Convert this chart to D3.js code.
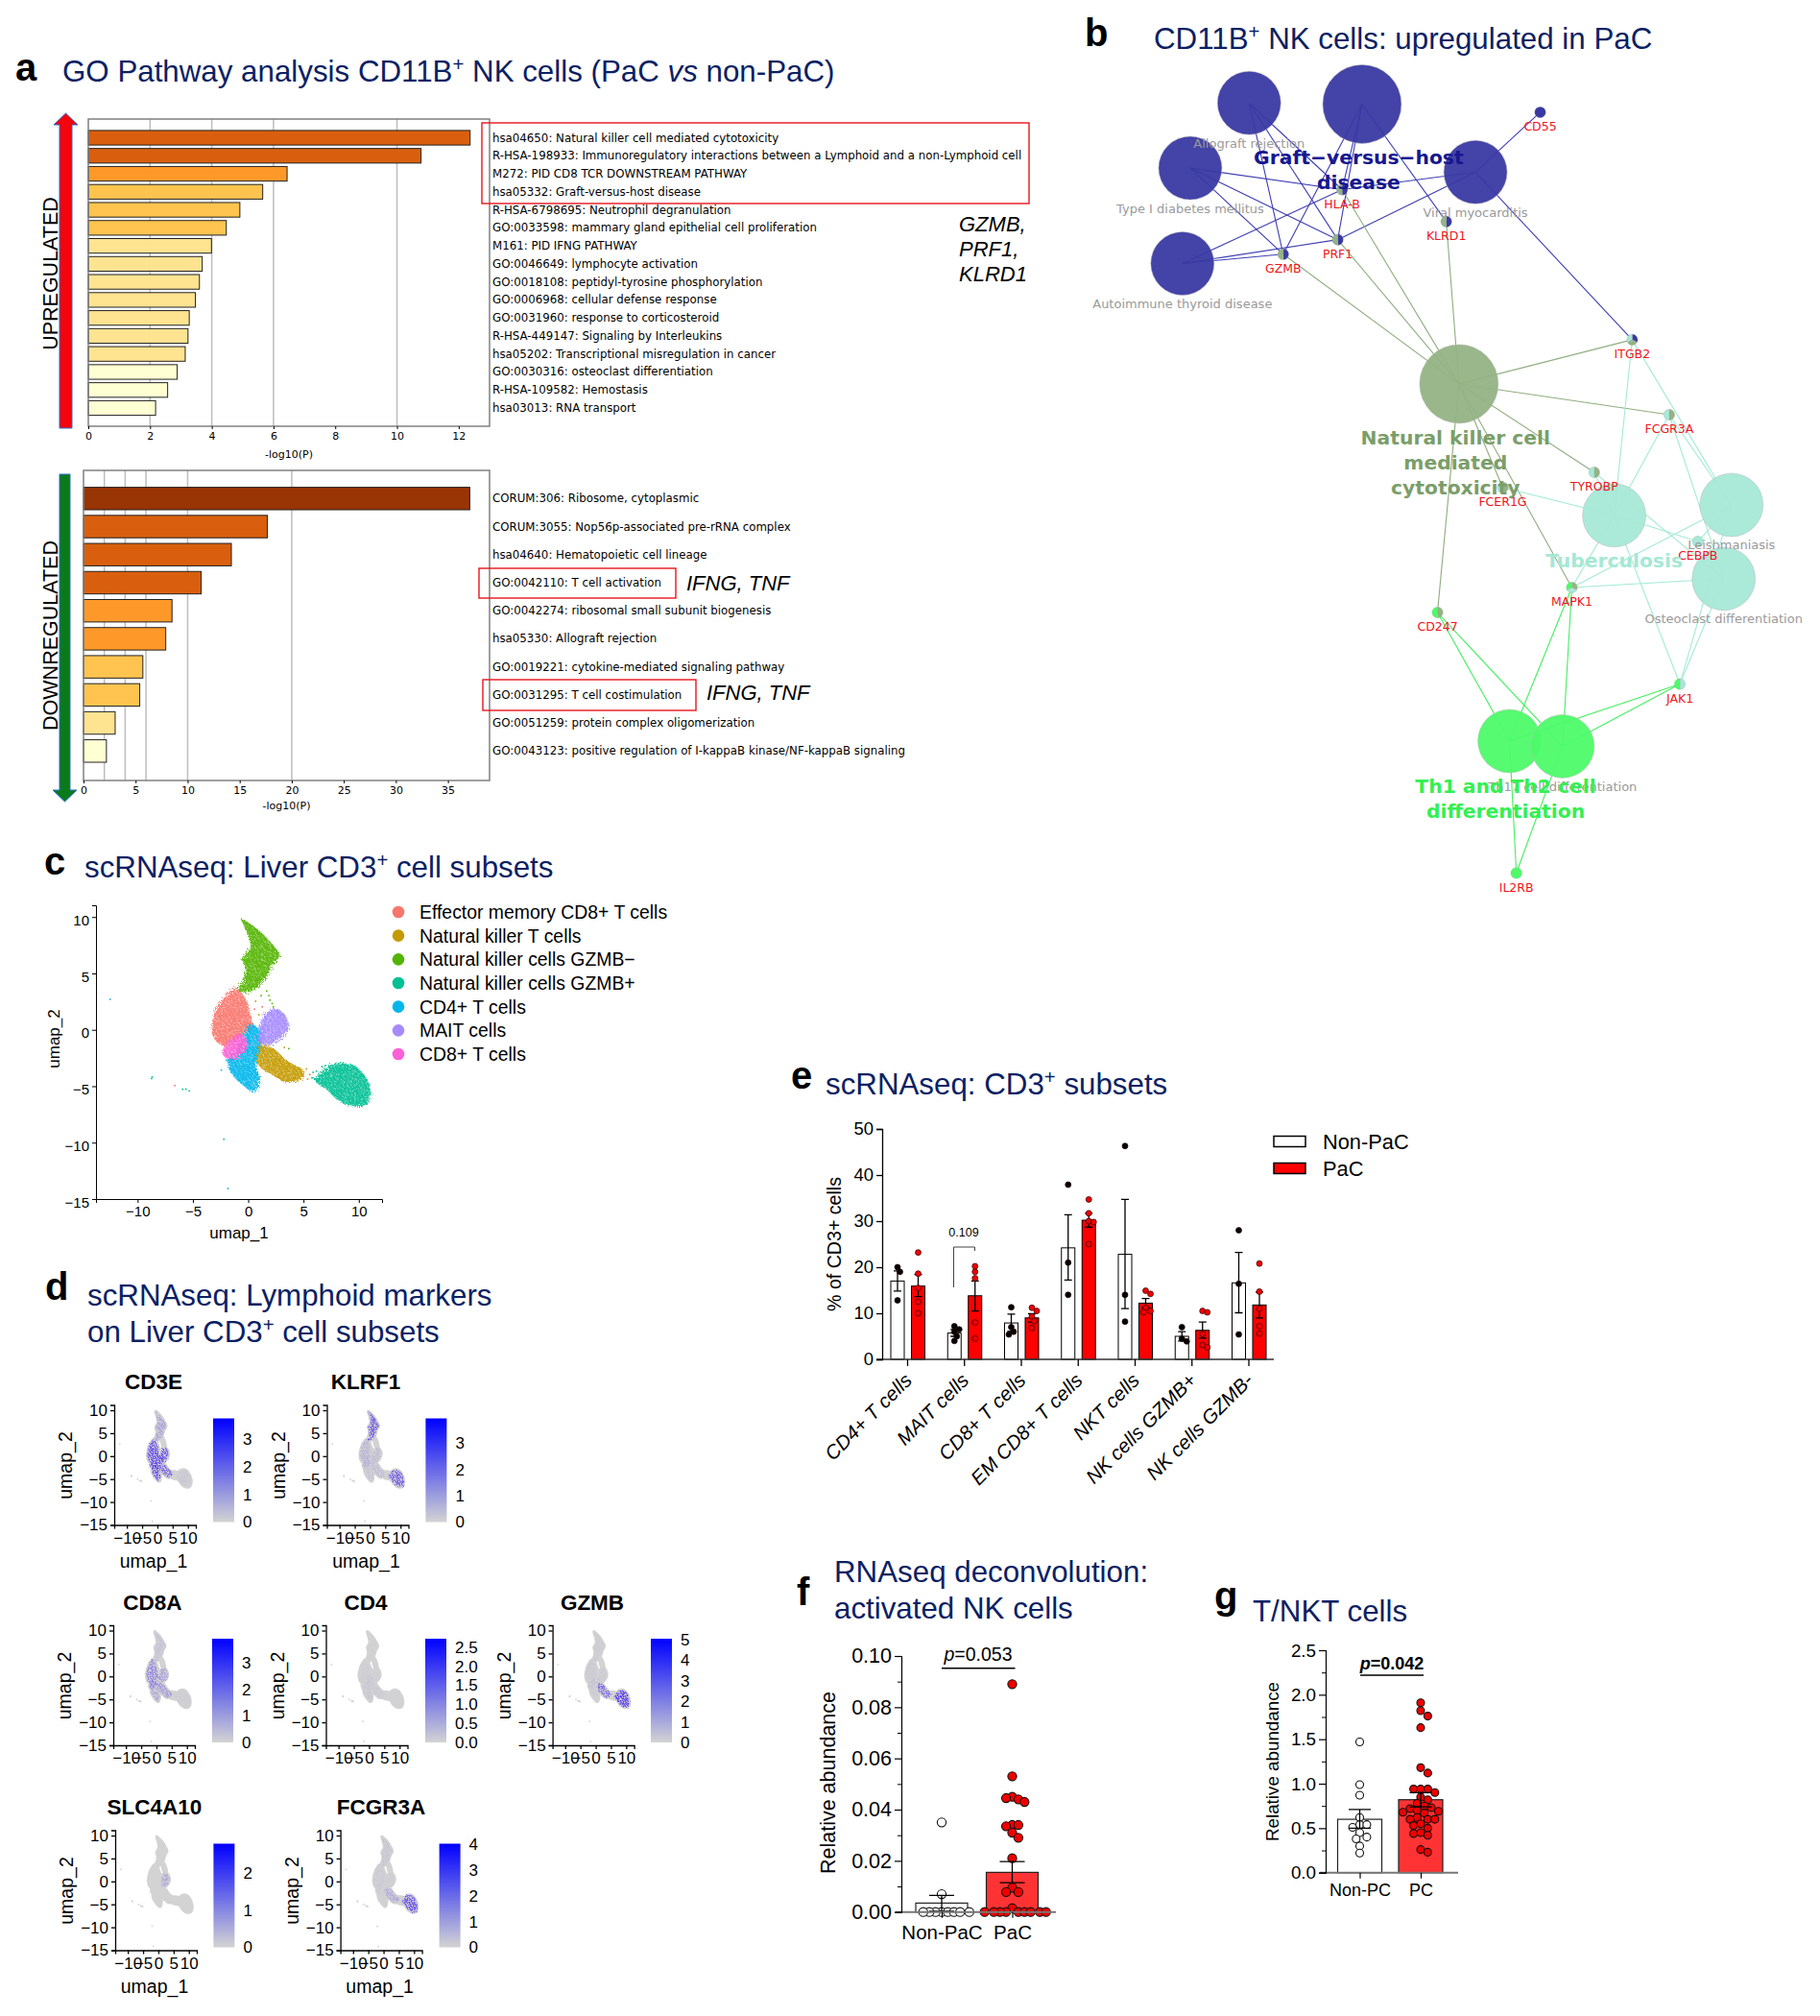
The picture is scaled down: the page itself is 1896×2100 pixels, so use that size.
<!DOCTYPE html>
<html>
<head>
<meta charset="utf-8">
<script src="https://d3js.org/d3.v7.min.js"></script>
<style>
body { margin: 0; background: #fff; }
text { font-family: "Liberation Sans", Arial, sans-serif; }
.meta text, text.meta { font-family: "DejaVu Sans", sans-serif; }
</style>
</head>
<body>
<div id="chart"></div>
<script>
// ---- panel a
var upTerms = ["hsa04650: Natural killer cell mediated cytotoxicity",
  "R-HSA-198933: Immunoregulatory interactions between a Lymphoid and a non-Lymphoid cell",
  "M272: PID CD8 TCR DOWNSTREAM PATHWAY", "hsa05332: Graft-versus-host disease",
  "R-HSA-6798695: Neutrophil degranulation", "GO:0033598: mammary gland epithelial cell proliferation",
  "M161: PID IFNG PATHWAY", "GO:0046649: lymphocyte activation", "GO:0018108: peptidyl-tyrosine phosphorylation",
  "GO:0006968: cellular defense response", "GO:0031960: response to corticosteroid",
  "R-HSA-449147: Signaling by Interleukins", "hsa05202: Transcriptional misregulation in cancer",
  "GO:0030316: osteoclast differentiation", "R-HSA-109582: Hemostasis", "hsa03013: RNA transport"];
var upValues = [12.37, 10.78, 6.44, 5.65, 4.91, 4.47, 3.99, 3.69, 3.6, 3.47, 3.27, 3.23, 3.14, 2.88, 2.57, 2.18];
var downTerms = ["CORUM:306: Ribosome, cytoplasmic", "CORUM:3055: Nop56p-associated pre-rRNA complex",
  "hsa04640: Hematopoietic cell lineage", "GO:0042110: T cell activation",
  "GO:0042274: ribosomal small subunit biogenesis", "hsa05330: Allograft rejection",
  "GO:0019221: cytokine-mediated signaling pathway", "GO:0031295: T cell costimulation",
  "GO:0051259: protein complex oligomerization", "GO:0043123: positive regulation of I-kappaB kinase/NF-kappaB signaling"];
var downValues = [37.1, 17.66, 14.2, 11.3, 8.5, 7.9, 5.7, 5.4, 3.04, 2.2];
var pathBins = [3, 4, 6, 10, 20];
var pathColors = ["#ffffd4", "#fee391", "#fec44f", "#fe9929", "#d95f0e", "#993404"];

var termNames = ["Allograft rejection", "Graft-versus-host disease", "Type I diabetes mellitus", "Viral myocarditis",
  "Autoimmune thyroid disease", "Natural killer cell mediated cytotoxicity", "Tuberculosis", "Leishmaniasis",
  "Osteoclast differentiation", "Th1 and Th2 cell differentiation", "Th17 cell differentiation"];
var termX = [396, 628, 275, 861, 259, 827, 1146, 1387, 1371, 931, 1040];
var termY = [177, 179, 289, 296, 453, 660, 886, 868, 995, 1274, 1283];
var termSize = [33, 41, 33, 33, 33, 41, 33, 33, 33, 33, 33];
var termGroup = [0, 0, 0, 0, 0, 1, 2, 2, 2, 3, 3];
var geneNames = ["CD55", "HLA-B", "KLRD1", "PRF1", "GZMB", "ITGB2", "FCGR3A", "TYROBP", "FCER1G", "CEBPB", "MAPK1", "CD247", "JAK1", "IL2RB"];
var geneX = [994, 587, 801, 578, 466, 1183, 1259, 1105, 917, 1318, 1059, 783, 1281, 945];
var geneY = [193, 326, 381, 412, 437, 584, 713, 812, 838, 931, 1010, 1053, 1176, 1501];
var termGenes = [
  ["GZMB", "PRF1", "HLA-B"],
  ["GZMB", "PRF1", "HLA-B", "KLRD1"],
  ["HLA-B", "PRF1", "GZMB"],
  ["CD55", "HLA-B", "PRF1", "ITGB2"],
  ["HLA-B", "PRF1", "GZMB"],
  ["GZMB", "PRF1", "HLA-B", "KLRD1", "ITGB2", "FCGR3A", "TYROBP", "FCER1G", "MAPK1", "CD247"],
  ["ITGB2", "FCGR3A", "TYROBP", "FCER1G", "CEBPB", "MAPK1", "JAK1"],
  ["ITGB2", "FCGR3A", "MAPK1", "JAK1", "CEBPB"],
  ["FCGR3A", "TYROBP", "MAPK1", "JAK1"],
  ["CD247", "MAPK1", "JAK1", "IL2RB"],
  ["CD247", "MAPK1", "JAK1", "IL2RB"]
];
var groupColors = ["#3939a3", "#94b384", "#a6e8d6", "#4dfb69"];
var edgeColors = ["#3d3db5", "#8fae7f", "#a3ead6", "#44ee5f"];
var groupTextColors = ["#17178f", "#7b9e69", "#a5e8d4", "#33f052"];

// ---- panel c, outlines of the cell clouds in umap units
var clusters = ["Effector memory CD8+ T cells", "Natural killer T cells", "Natural killer cells GZMB\u2212", "Natural killer cells GZMB+", "CD4+ T cells", "MAIT cells", "CD8+ T cells"];
var clusterColors = ["#F8766D", "#C49A00", "#53B400", "#00C094", "#00B6EB", "#A58AFF", "#FB61D7"];
var outlineEM = [[-1.16, 3.68], [-0.27, 2.78], [0.18, 1.37], [0.4, 0], [-0.7, -0.62], [-1.6, -1.47], [-2.7, -1.2], [-3.3, 0], [-3.07, 1.37], [-2.5, 2.5]];
var outlineNKT = [[0.85, -1.47], [2.18, -1.6], [3.5, -2.75], [5.1, -3.74], [4.63, -4.45], [3.3, -4.6], [2.18, -4], [1.07, -3.3], [0.62, -2.33]];
var outlineNKneg = [[-0.58, 9.8], [1.07, 8.73], [2.18, 7.6], [2.85, 6.6], [2.18, 5.75], [1.74, 4.76], [0.85, 3.77], [-0.04, 3.35], [-0.94, 3.5], [-0.4, 4.48], [-0.27, 5.6], [-0.58, 6.32], [0.18, 7.3], [-0.04, 8.44]];
var outlineNKpos = [[7.8, -3], [9.57, -3.17], [10.7, -4.3], [11.1, -5.7], [10.7, -6.57], [9.57, -6.8], [8.2, -6.3], [7.1, -5.3], [6, -4.45], [6.64, -3.74]];
var outlineCD4 = [[0.18, 0.5], [1.3, -0.34], [1.07, -1.47], [0.7, -3.17], [1.07, -4.3], [0.53, -5.5], [-0.7, -4.73], [-1.6, -3.74], [-1.83, -2.6], [-0.7, -1.2]];
var outlineMAIT = [[2.4, 1.87], [3.3, 1.37], [3.65, 0.2], [3.07, -0.62], [1.96, -1.33], [1.07, -1.2], [1.07, 0.5], [1.5, 1.37]];
var outlineCD8 = [[-0.7, -0.34], [0, -1.2], [-0.7, -2.3], [-1.83, -2.6], [-2.36, -2], [-1.83, -1.2]];
var outlines = [outlineEM, outlineNKT, outlineNKneg, outlineNKpos, outlineCD4, outlineMAIT, outlineCD8];
// the grey overview in panel d also covers the thin parts between the clouds
var outlineNeck = [[-0.3, 3.2], [0.5, 1.8], [1.4, 0.8], [1.5, -1], [0, -1], [-0.2, 1.5]];
var outlineLink = [[1.2, 4.2], [1.9, 3.9], [2.7, 2], [2.2, 1.5], [1.4, 3]];
var outlineBridge = [[4.5, -3.5], [6.5, -3.5], [7.4, -4.4], [6.5, -5], [4.5, -4.6]];
// single cells away from the clouds: x, y, cluster
var looseCells = [[-12.56, 2.77, 4], [-8.8, -4.25, 3], [-8.75, -4.1, 3], [-6.7, -4.87, 0], [-6, -5.2, 3], [-5.7, -5.2, 3], [-5.4, -5.35, 3], [-2.27, -9.63, 3], [-1.9, -14, 4],
  [1.6, 3.5, 2], [1.8, 3.1, 2], [1.9, 2.7, 2], [2.1, 2.4, 2], [2.2, 2.1, 2], [1.1, 3.1, 2], [0.6, 2.6, 1], [0.5, 1.9, 0], [0.9, 1.4, 1], [1.2, 2.1, 0],
  [5.2, -3.4, 1], [5.5, -3.9, 1], [5.8, -3.7, 3], [6.1, -3.6, 3], [5.7, -4.2, 3], [6.3, -4.3, 3], [6.6, -3.2, 3], [6.9, -3.1, 3], [5.3, -4.3, 1], [3.2, -1.5, 1], [3.6, -1.6, 2], [1.0, -1.1, 1], [-2.5, -3.5, 4], [-0.4, -1, 5], [0.5, -0.6, 5]];

// ---- panel d
var genes = ["CD3E", "KLRF1", "CD8A", "CD4", "GZMB", "SLC4A10", "FCGR3A"];
// share of expressing cells per cluster, same order as clusters
var expression = [
  [0.9, 0.75, 0.35, 0.08, 0.9, 0.9, 0.9],
  [0.2, 0.15, 0.85, 0.75, 0.1, 0.15, 0.2],
  [0.5, 0.4, 0.12, 0.04, 0.3, 0.35, 0.55],
  [0.03, 0.05, 0.01, 0.01, 0.08, 0.02, 0.03],
  [0.06, 0.7, 0.05, 1, 0.04, 0.05, 0.1],
  [0, 0, 0, 0, 0, 0.3, 0],
  [0.05, 0.3, 0.1, 0.85, 0.02, 0.03, 0.05]
];
var geneMax = [3.75, 3.95, 3.9, 2.72, 5.05, 2.8, 4.02];
var geneTicks = [[0, 1, 2, 3], [0, 1, 2, 3], [0, 1, 2, 3], [0, 0.5, 1, 1.5, 2, 2.5], [0, 1, 2, 3, 4, 5], [0, 1, 2], [0, 1, 2, 3, 4]];

// ---- panel e
var subsets = ["CD4+ T cells", "MAIT cells", "CD8+ T cells", "EM CD8+ T cells", "NKT cells", "NK cells GZMB+", "NK cells GZMB-"];
var nonPacMean = [17, 5.7, 7.9, 24.2, 22.8, 5, 16.6];
var nonPacLow = [14.8, 5, 6.1, 17.2, 11, 4, 10.1];
var nonPacHigh = [19.2, 6.5, 9.8, 31.4, 34.7, 6, 23.2];
var nonPacPoints = [[20, 19, 12.8], [7.2, 6.5, 6, 5, 4], [11.3, 7, 6, 5.4], [37.9, 21, 14], [46.3, 14, 8.2], [7, 4.5, 3.9], [28, 16.4, 5.4]];
var pacMean = [15.9, 13.8, 9, 30.2, 12.2, 6.3, 11.8];
var pacLow = [13.6, 10.5, 8.1, 28.7, 11.2, 4.6, 9];
var pacHigh = [18.4, 17, 9.9, 31.7, 13.2, 8.1, 14.6];
var pacPoints = [[23.2, 18.6, 15.5, 12.5, 10], [20.2, 19, 17.6, 8, 4.5], [11.2, 10.5, 9.3, 8.3, 6.8], [34.7, 31.7, 30, 29.8, 25], [14.9, 14.2, 11.2, 10.5, 10.2], [10.5, 10.2, 5.5, 3.1, 2.6], [20.8, 14.7, 11, 7.2, 5.6]];

// ---- panels f and g
var fNonPac = [0.035, 0.007, 0, 0, 0, 0, 0, 0, 0, 0];
var fPac = [0.089, 0.053, 0.045, 0.044, 0.0445, 0.043, 0.034, 0.034, 0.0335, 0.031, 0.029, 0.021, 0.0095, 0.0078, 0.0078, 0.0015, 0, 0, 0, 0, 0, 0, 0, 0, 0];
var fMeans = [0.0035, 0.0155], fLow = [0.0003, 0.0115], fHigh = [0.0065, 0.0197];
var gNonPc = [1.47, 0.99, 0.87, 0.62, 0.54, 0.54, 0.51, 0.45, 0.4, 0.38, 0.3, 0.22];
var gPc = [1.91, 1.82, 1.76, 1.63, 1.18, 1.12, 0.94, 0.94, 0.94, 0.9, 0.85, 0.82, 0.78, 0.75, 0.73, 0.72, 0.7, 0.69, 0.68, 0.67, 0.62, 0.6, 0.6, 0.6, 0.55, 0.53, 0.5, 0.45, 0.44, 0.42, 0.26, 0.23];
var gMeans = [0.6, 0.82], gLow = [0.5, 0.74], gHigh = [0.71, 0.9];

var navy = "#0b2164";
var svg = d3.select("#chart").append("svg").attr("width", 1896).attr("height", 2100);
var defs = svg.append("defs");

function label(x, y, str, size, opts) {
  opts = opts || {};
  var t = svg.append("text").attr("x", x).attr("y", y).attr("font-size", size)
    .attr("fill", opts.fill || "#000")
    .attr("text-anchor", opts.anchor || "start")
    .attr("dominant-baseline", opts.base || "alphabetic")
    .text(str);
  if (opts.bold) t.attr("font-weight", "bold");
  if (opts.italic) t.attr("font-style", "italic");
  if (opts.family) t.style("font-family", opts.family);
  if (opts.rotate) t.attr("transform", "rotate(" + opts.rotate + " " + x + " " + y + ")");
  return t;
}

function title(x, y, parts, size) {
  var t = svg.append("text").attr("x", x).attr("y", y).attr("font-size", size).attr("fill", navy);
  parts.forEach(function (p) {
    var s = t.append("tspan").text(p.t);
    if (p.sup) s.attr("baseline-shift", "super").attr("font-size", size * 0.65);
    if (p.it) s.attr("font-style", "italic");
  });
}

[["a", 16, 84], ["b", 1130, 48], ["c", 46, 911], ["d", 47, 1354], ["e", 824, 1134], ["f", 830, 1672], ["g", 1265, 1676]].forEach(function (d) {
  label(d[1], d[2], d[0], 40, { bold: true });
});

var titleSize = 31.3;
title(65, 85, [{ t: "GO Pathway analysis CD11B" }, { t: "+", sup: true }, { t: " NK cells (PaC " }, { t: "vs", it: true }, { t: " non-PaC)" }], titleSize);
title(1202, 51, [{ t: "CD11B" }, { t: "+", sup: true }, { t: " NK cells: upregulated in PaC" }], titleSize);
title(88, 914, [{ t: "scRNAseq: Liver CD3" }, { t: "+", sup: true }, { t: " cell subsets" }], titleSize);
title(91, 1360, [{ t: "scRNAseq: Lymphoid markers" }], titleSize);
title(91, 1398, [{ t: "on Liver CD3" }, { t: "+", sup: true }, { t: " cell subsets" }], titleSize);
title(860, 1140, [{ t: "scRNAseq: CD3" }, { t: "+", sup: true }, { t: " subsets" }], titleSize);
title(869, 1648, [{ t: "RNAseq deconvolution:" }], titleSize);
title(869, 1686, [{ t: "activated NK cells" }], titleSize);
title(1305, 1689, [{ t: "T/NKT cells" }], titleSize);

// ---- a: enrichment bars
function pathwayBars(terms, values, xMax, box, rowTop, rowBottom, barH, labelGap) {
  var x = d3.scaleLinear().domain([0, xMax]).range([box.left, box.right]);
  var y = d3.scalePoint().domain(terms).range([rowTop, rowBottom]);
  var color = d3.scaleThreshold().domain(pathBins).range(pathColors);
  var g = svg.append("g").attr("class", "meta");

  g.selectAll("line.grid").data([2, 4, 6, 10, 20].filter(function (v) { return v < xMax; })).enter().append("line")
    .attr("x1", x).attr("x2", x).attr("y1", box.top).attr("y2", box.bottom)
    .attr("stroke", "#bdbdbd").attr("stroke-width", 1.5);
  g.selectAll("rect.bar").data(terms).enter().append("rect")
    .attr("x", x(0)).attr("y", function (d) { return y(d) - barH / 2; })
    .attr("width", function (d, i) { return x(values[i]) - x(0); })
    .attr("height", barH)
    .attr("fill", function (d, i) { return color(values[i]); })
    .attr("stroke", "#222").attr("stroke-width", 1);
  g.append("rect").attr("x", box.left).attr("y", box.top).attr("width", box.right - box.left).attr("height", box.bottom - box.top)
    .attr("fill", "none").attr("stroke", "#808080").attr("stroke-width", 1.5);

  var ax = g.append("g").attr("transform", "translate(0," + box.bottom + ")")
    .call(d3.axisBottom(x).tickValues(d3.range(0, xMax, xMax > 20 ? 5 : 2)).tickSize(3));
  ax.select(".domain").remove();
  ax.selectAll("text").attr("font-size", 11).style("font-family", "DejaVu Sans");
  g.append("text").attr("x", (box.left + box.right) / 2).attr("y", box.bottom + labelGap).attr("text-anchor", "middle")
    .attr("font-size", 11).text("-log10(P)");
  g.selectAll("text.term").data(terms).enter().append("text")
    .attr("x", 513).attr("y", function (d) { return y(d); }).attr("dominant-baseline", "central")
    .attr("font-size", 11.8).text(function (d) { return d; });
}
pathwayBars(upTerms, upValues, 13, { left: 92, right: 510, top: 124, bottom: 444 }, 143.5, 425, 15.2, 33);
pathwayBars(downTerms, downValues, 39, { left: 87, right: 510, top: 490, bottom: 813 }, 519.3, 782.3, 23.4, 30);

[[502, 128, 570, 84], [499, 592, 205, 31], [503, 708, 222, 32]].forEach(function (r) {
  svg.append("rect").attr("x", r[0]).attr("y", r[1]).attr("width", r[2]).attr("height", r[3])
    .attr("fill", "none").attr("stroke", "#e8141c").attr("stroke-width", 1.4);
});
label(999, 241, "GZMB,", 22, { italic: true });
label(999, 267, "PRF1,", 22, { italic: true });
label(999, 293, "KLRD1", 22, { italic: true });
label(715, 615, "IFNG, TNF", 22, { italic: true });
label(736, 729, "IFNG, TNF", 22, { italic: true });

// up and down arrows
svg.append("path").attr("d", d3.line()([[62, 446], [75, 446], [75, 130], [81, 130], [68.5, 118], [56, 130], [62, 130]]) + "Z")
  .attr("fill", "#f4040c").attr("stroke", "#2f6fd0").attr("stroke-width", 1);
svg.append("path").attr("d", d3.line()([[62, 494], [73, 494], [73, 823], [80, 823], [67.5, 835], [55, 823], [62, 823]]) + "Z")
  .attr("fill", "#0b7a1c").attr("stroke", "#2f6fd0").attr("stroke-width", 1);
label(53, 285, "UPREGULATED", 21.5, { anchor: "middle", base: "central", rotate: -90 });
label(53, 662, "DOWNREGULATED", 21.5, { anchor: "middle", base: "central", rotate: -90 });

// ---- b: network
var netX = d3.scaleLinear().domain([0, 1560]).range([1100.5, 1891.5]);
var netY = d3.scaleLinear().domain([0, 1558]).range([0, 944]);
var net = svg.append("g");
var edges = [];
termNames.forEach(function (t, i) {
  termGenes[i].forEach(function (g) { edges.push({ term: i, gene: geneNames.indexOf(g) }); });
});
net.selectAll("line").data(edges).enter().append("line")
  .attr("x1", function (d) { return netX(termX[d.term]); })
  .attr("y1", function (d) { return netY(termY[d.term]); })
  .attr("x2", function (d) { return netX(geneX[d.gene]); })
  .attr("y2", function (d) { return netY(geneY[d.gene]); })
  .attr("stroke", function (d) { return edgeColors[termGroup[d.term]]; })
  .attr("stroke-width", 1.1);
net.selectAll("circle.term").data(termNames).enter().append("circle")
  .attr("cx", function (d, i) { return netX(termX[i]); })
  .attr("cy", function (d, i) { return netY(termY[i]); })
  .attr("r", function (d, i) { return termSize[i]; })
  .attr("fill", function (d, i) { return groupColors[termGroup[i]]; })
  .attr("fill-opacity", 0.95)
  .attr("stroke", "#bbb").attr("stroke-opacity", 0.5);

var pie = d3.pie().value(1).sort(null);
var geneArc = d3.arc().innerRadius(0).outerRadius(5.8);
geneNames.forEach(function (g, i) {
  var groups = [];
  edges.forEach(function (e) {
    if (e.gene === i && groups.indexOf(termGroup[e.term]) < 0) groups.push(termGroup[e.term]);
  });
  var node = net.append("g").attr("transform", "translate(" + netX(geneX[i]) + "," + netY(geneY[i]) + ")");
  node.selectAll("path").data(pie(groups)).enter().append("path").attr("d", geneArc)
    .attr("fill", function (d) { return groupColors[d.data]; }).attr("stroke", "#aaa").attr("stroke-width", 0.3);
});
var netFont = "DejaVu Sans";
[0, 2, 3, 4, 7, 8, 10].forEach(function (i) {
  label(netX(termX[i]), netY(termY[i]) + 42, termNames[i], 13, { anchor: "middle", base: "central", fill: "#9a9a9a", family: netFont });
});
geneNames.forEach(function (g, i) {
  label(netX(geneX[i]), netY(geneY[i]) + 14.6, g, 12.5, { anchor: "middle", base: "central", fill: "#f0141c", family: netFont });
});
[["Graft\u2212versus\u2212host", 621, 270, 0], ["disease", 621, 314, 0], ["Natural killer cell", 820, 752, 1], ["mediated", 820, 795, 1], ["cytotoxicity", 820, 838, 1],
  ["Tuberculosis", 1146, 964, 2], ["Th1 and Th2 cell", 923, 1352, 3], ["differentiation", 923, 1395, 3]].forEach(function (d) {
  label(netX(d[1]), netY(d[2]), d[0], 20.3, { anchor: "middle", base: "central", bold: true, fill: groupTextColors[d[3]], family: netFont });
});

// ---- c: clusters on the umap
var cloud = d3.line().curve(d3.curveCatmullRomClosed.alpha(0.5));
function speckPattern(id, color, size, dot) {
  var p = defs.append("pattern").attr("id", id).attr("patternUnits", "userSpaceOnUse").attr("width", size).attr("height", size);
  [[0.1, 0.2], [0.55, 0.05], [0.8, 0.4], [0.3, 0.55], [0.65, 0.75], [0.05, 0.85]].forEach(function (s) {
    p.append("rect").attr("x", s[0] * size).attr("y", s[1] * size).attr("width", dot).attr("height", dot).attr("fill", color);
  });
}
speckPattern("speckWhite", "#fff", 8, 1.2);
speckPattern("speckBlue", "#4f2ff0", 5, 1.7);

// rough grain so the filled outlines read as clouds of single cells
function grainFilter(id, scale) {
  var f = defs.append("filter").attr("id", id).attr("x", "-15%").attr("y", "-15%").attr("width", "130%").attr("height", "130%");
  f.append("feTurbulence").attr("type", "fractalNoise").attr("baseFrequency", 0.85).attr("numOctaves", 2).attr("seed", 4).attr("result", "noise");
  f.append("feDisplacementMap").attr("in", "SourceGraphic").attr("in2", "noise").attr("scale", scale);
}
grainFilter("grainBig", 9);
grainFilter("grainSmall", 4);

var cx = d3.scaleLinear().domain([-13.76, 12.1]).range([100, 398]);
var cy = d3.scaleLinear().domain([-15, 11.04]).range([1249, 943]);
var cLine = function (pts) { return cloud(pts.map(function (p) { return [cx(p[0]), cy(p[1])]; })); };
var c = svg.append("g");
var cGrain = c.append("g").attr("filter", "url(#grainBig)");
outlines.forEach(function (o, i) {
  cGrain.append("path").attr("d", cLine(o)).attr("fill", clusterColors[i]).attr("fill-opacity", 0.92);
  cGrain.append("path").attr("d", cLine(o)).attr("fill", "url(#speckWhite)").attr("fill-opacity", 0.6);
});
c.selectAll("rect").data(looseCells).enter().append("rect")
  .attr("x", function (d) { return cx(d[0]); }).attr("y", function (d) { return cy(d[1]); })
  .attr("width", 1.6).attr("height", 1.6)
  .attr("fill", function (d) { return clusterColors[d[2]]; });
function tidy(ax, size) {
  ax.selectAll("text").attr("font-size", size);
  ax.selectAll("line,path").attr("stroke", "#000");
}
c.append("g").attr("transform", "translate(100,0)").call(d3.axisLeft(cy).tickValues([-15, -10, -5, 0, 5, 10]).tickSize(4)).call(tidy, 15)
  .selectAll("text").attr("dy", "0.55em");
c.append("g").attr("transform", "translate(0,1249)").call(d3.axisBottom(cx).tickValues([-10, -5, 0, 5, 10]).tickSize(4)).call(tidy, 15);
label(56, 1082, "umap_2", 17, { anchor: "middle", base: "central", rotate: -90 });
label(249, 1284, "umap_1", 17, { anchor: "middle", base: "central" });
var legendY = d3.scalePoint().domain(clusters).range([950, 1098]);
c.selectAll("circle.key").data(clusters).enter().append("circle")
  .attr("cx", 415).attr("cy", function (d) { return legendY(d); }).attr("r", 6.3)
  .attr("fill", function (d, i) { return clusterColors[i]; });
clusters.forEach(function (d) { label(437, legendY(d), d, 19.4, { base: "central" }); });

// ---- d: feature plots
var featureCol = [[119, 1588.5, 222, 160], [340.5, 1588.5, 443.4, 381], [118, 1818, 221, 159], [339.5, 1818, 443, 381], [575.6, 1818, 678, 617], [120, 2031.5, 222.4, 161], [354.6, 2031.5, 457.6, 397]];
var rampGrad = defs.append("linearGradient").attr("id", "ramp").attr("x1", 0).attr("x2", 0).attr("y1", 1).attr("y2", 0);
rampGrad.append("stop").attr("offset", "0%").attr("stop-color", "#d3d3d3");
rampGrad.append("stop").attr("offset", "100%").attr("stop-color", "#0000ff");

genes.forEach(function (gene, k) {
  var pos = featureCol[k], left = pos[0], bottom = pos[1];
  var fx = d3.scaleLinear().domain([-14.15, 12.6]).range([left, left + 85]);
  var fy = d3.scaleLinear().domain([-15, 11.15]).range([bottom, bottom - 125]);
  var g = svg.append("g");
  var shape = function (pts) { return cloud(pts.map(function (p) { return [fx(p[0]), fy(p[1])]; })); };
  outlines.concat([outlineNeck, outlineLink, outlineBridge]).forEach(function (o) {
    g.append("path").attr("d", shape(o)).attr("fill", "#d3d3d3").attr("stroke", "#d3d3d3").attr("stroke-width", 3);
  });
  var expr = g.append("g").attr("filter", "url(#grainSmall)");
  outlines.forEach(function (o, i) {
    expr.append("path").attr("d", shape(o)).attr("fill", "url(#speckBlue)").attr("fill-opacity", expression[k][i]);
  });
  g.selectAll("rect").data(looseCells.slice(0, 9)).enter().append("rect")
    .attr("x", function (d) { return fx(d[0]); }).attr("y", function (d) { return fy(d[1]); })
    .attr("width", 1.5).attr("height", 1.5).attr("fill", "#cfcfcf");

  var ay = g.append("g").attr("transform", "translate(" + left + ",0)").call(d3.axisLeft(fy).tickValues([-15, -10, -5, 0, 5, 10]).tickSize(4)).call(tidy, 17);
  ay.selectAll("path,line").attr("stroke-width", 1.3);
  var ax = g.append("g").attr("transform", "translate(0," + bottom + ")").call(d3.axisBottom(fx).tickValues([-10, -5, 0, 5, 10]).tickSize(4)).call(tidy, 17);
  ax.selectAll("path,line").attr("stroke-width", 1.3);

  var barTop = bottom - 111, barBottom = bottom - 3;
  var cb = d3.scaleLinear().domain([0, geneMax[k]]).range([barBottom, barTop]);
  g.append("rect").attr("x", pos[2]).attr("y", barTop).attr("width", 22).attr("height", barBottom - barTop).attr("fill", "url(#ramp)");
  var cbAxis = g.append("g").attr("transform", "translate(" + (pos[2] + 22) + ",0)")
    .call(d3.axisRight(cb).tickValues(geneTicks[k]).tickSize(0).tickPadding(9)
      .tickFormat(geneTicks[k].indexOf(0.5) >= 0 ? d3.format(".1f") : d3.format("d")));
  cbAxis.select(".domain").remove();
  cbAxis.selectAll("text").attr("font-size", 17);

  label(pos[3], bottom - 149, gene, 22.5, { anchor: "middle", base: "central", bold: true });
  label(left - 51, bottom - 62, "umap_2", 19.5, { anchor: "middle", base: "central", rotate: -90 });
  if (k !== 2 && k !== 3 && k !== 4) label(left + 41, bottom + 37, "umap_1", 19.5, { anchor: "middle", base: "central" });
});

// ---- shared helpers for the dot and bar panels
function swarm(vals, y, d) {
  var placed = [];
  return vals.map(function (v) {
    var py = y(v), off = 0;
    for (var k = 0; k < 80; k++) {
      off = (k % 2 ? 1 : -1) * Math.ceil(k / 2) * d / 2;
      if (placed.every(function (p) { return Math.hypot(p.x - off, p.y - py) >= d; })) break;
    }
    placed.push({ x: off, y: py });
    return { x: off, y: py };
  });
}
function errorBar(g, x, y0, y1, cap, width) {
  g.append("path").attr("d", "M" + (x - cap) + "," + y0 + "H" + (x + cap) + "M" + (x - cap) + "," + y1 + "H" + (x + cap) + "M" + x + "," + y0 + "V" + y1)
    .attr("stroke", "#000").attr("stroke-width", width).attr("fill", "none");
}

// ---- e: grouped bars
var ex = d3.scalePoint().domain(subsets).range([945, 1300.5]);
var ey = d3.scaleLinear().domain([0, 50]).range([1416, 1176]);
var e = svg.append("g");
function groupBars(means, low, high, points, shift, fill, dotFill) {
  subsets.forEach(function (s, i) {
    var cxx = ex(s) + shift;
    e.append("rect").attr("x", cxx - 7).attr("y", ey(means[i])).attr("width", 14).attr("height", ey(0) - ey(means[i]))
      .attr("fill", fill).attr("stroke", "#000").attr("stroke-width", 1);
    errorBar(e, cxx, ey(low[i]), ey(high[i]), 4, 1.3);
    e.selectAll(null).data(swarm(points[i], ey, 5)).enter().append("circle")
      .attr("cx", function (d) { return cxx + d.x; }).attr("cy", function (d) { return d.y; }).attr("r", 3)
      .attr("fill", dotFill).attr("stroke", "#2a0000").attr("stroke-width", 0.7);
  });
}
groupBars(nonPacMean, nonPacLow, nonPacHigh, nonPacPoints, -10, "#fff", "#000");
groupBars(pacMean, pacLow, pacHigh, pacPoints, 11.5, "#ff0000", "#f00000");
e.append("line").attr("x1", 913).attr("x2", 1327).attr("y1", 1416).attr("y2", 1416).attr("stroke", "#333").attr("stroke-width", 1.3);
var eAxisY = e.append("g").attr("transform", "translate(919,0)").call(d3.axisLeft(ey).tickValues([0, 10, 20, 30, 40, 50]).tickSize(6)).call(tidy, 18.5);
eAxisY.selectAll("path,line").attr("stroke-width", 1.3);
var eAxisX = e.append("g").attr("transform", "translate(0,1416)").call(d3.axisBottom(ex).tickSize(7));
eAxisX.select(".domain").remove();
eAxisX.selectAll("line").attr("stroke", "#000").attr("stroke-width", 1.3);
eAxisX.selectAll("text").attr("font-size", 20.5).attr("font-style", "italic").attr("text-anchor", "end")
  .attr("dx", -6).attr("dy", 13).attr("fill", "#000")
  .attr("transform", function () { return "rotate(-45 0 9)"; });
label(869, 1296, "% of CD3+ cells", 19.6, { anchor: "middle", base: "central", rotate: -90 });
e.append("path").attr("d", "M993.5,1341V1299H1015.5V1303").attr("fill", "none").attr("stroke", "#444").attr("stroke-width", 1);
label(1004, 1284, "0.109", 12.5, { anchor: "middle", base: "central" });
[["Non-PaC", "#fff", 1189], ["PaC", "#ff0000", 1217]].forEach(function (d) {
  e.append("rect").attr("x", 1327).attr("y", d[2] - 5.5).attr("width", 33).attr("height", 11).attr("fill", d[1]).attr("stroke", "#000").attr("stroke-width", 1.5);
  label(1378, d[2], d[0], 21.8, { base: "central" });
});

// ---- f and g: two group bars with dots
function dotPanel(o) {
  var x = d3.scalePoint().domain(o.names).range(o.centers);
  var y = d3.scaleLinear().domain(o.domain).range(o.yRange);
  var g = svg.append("g");
  o.names.forEach(function (n, i) {
    g.append("rect").attr("x", x(n) - o.barW / 2).attr("y", y(o.means[i])).attr("width", o.barW).attr("height", y(0) - y(o.means[i]))
      .attr("fill", i ? "#ff3333" : "#fff").attr("stroke", "#222").attr("stroke-width", 1.2);
    g.selectAll(null).data(swarm(o.points[i], y, o.gap)).enter().append("circle")
      .attr("cx", function (d) { return x(n) + d.x; }).attr("cy", function (d) { return d.y; }).attr("r", o.r)
      .attr("fill", i ? "#ee0000" : "#fff").attr("stroke", "#111").attr("stroke-width", 1.1);
    errorBar(g, x(n), y(o.low[i]), y(o.high[i]), o.cap, 1.3);
  });
  g.append("line").attr("x1", o.axisLeft - 6).attr("x2", o.axisRight).attr("y1", y(0)).attr("y2", y(0)).attr("stroke", "#777").attr("stroke-width", 2);
  var major = g.append("g").attr("transform", "translate(" + o.axisLeft + ",0)")
    .call(d3.axisLeft(y).tickValues(o.major).tickSize(7).tickFormat(d3.format(o.fmt))).call(tidy, o.fs);
  major.selectAll("path,line").attr("stroke-width", 1.2);
  var minor = g.append("g").attr("transform", "translate(" + o.axisLeft + ",0)")
    .call(d3.axisLeft(y).tickValues(o.minor).tickSize(4).tickFormat(""));
  minor.select(".domain").remove();
  minor.selectAll("line").attr("stroke", "#000");
  var ax = g.append("g").attr("transform", "translate(0," + y(0) + ")").call(d3.axisBottom(x).tickSize(6));
  ax.select(".domain").remove();
  ax.selectAll("line").attr("stroke", "#000").attr("stroke-width", 1.2);
  ax.selectAll("text").attr("font-size", o.xfs).attr("dy", o.labelDy);
  label(o.titleX, o.titleY, "Relative abundance", o.fs, { anchor: "middle", base: "central", rotate: -90 });
}
dotPanel({ names: ["Non-PaC", "PaC"], centers: [981, 1054.5], domain: [0, 0.1], yRange: [1991.7, 1725], barW: 54, means: fMeans, low: fLow, high: fHigh,
  points: [fNonPac, fPac], r: 4.6, gap: 6.4, cap: 13, axisLeft: 939, axisRight: 1100, major: [0, 0.02, 0.04, 0.06, 0.08, 0.1], minor: [0.01, 0.03, 0.05, 0.07, 0.09], fmt: ".2f", fs: 21.5, xfs: 20.5, labelDy: 19, titleX: 863, titleY: 1857 });
dotPanel({ names: ["Non-PC", "PC"], centers: [1416.5, 1480], domain: [0, 2.5], yRange: [1950.7, 1719], barW: 46, means: gMeans, low: gLow, high: gHigh,
  points: [gNonPc, gPc], r: 4, gap: 7.4, cap: 11.5, axisLeft: 1381, axisRight: 1519, major: [0, 0.5, 1, 1.5, 2, 2.5], minor: [0.25, 0.75, 1.25, 1.75, 2.25], fmt: ".1f", fs: 18.8, xfs: 18, labelDy: 15, titleX: 1325, titleY: 1835 });

var p1 = svg.append("text").attr("x", 1019).attr("y", 1723).attr("text-anchor", "middle").attr("dominant-baseline", "central").attr("font-size", 19.5);
p1.append("tspan").attr("font-style", "italic").text("p");
p1.append("tspan").text("=0.053");
svg.append("line").attr("x1", 981).attr("x2", 1057.5).attr("y1", 1737.7).attr("y2", 1737.7).attr("stroke", "#000").attr("stroke-width", 1.5);
var p2 = svg.append("text").attr("x", 1450).attr("y", 1733).attr("text-anchor", "middle").attr("dominant-baseline", "central").attr("font-size", 18).attr("font-weight", "bold");
p2.append("tspan").attr("font-style", "italic").text("p");
p2.append("tspan").text("=0.042");
svg.append("line").attr("x1", 1417).attr("x2", 1483).attr("y1", 1745).attr("y2", 1745).attr("stroke", "#000").attr("stroke-width", 1.5);
</script>
</body>
</html>
